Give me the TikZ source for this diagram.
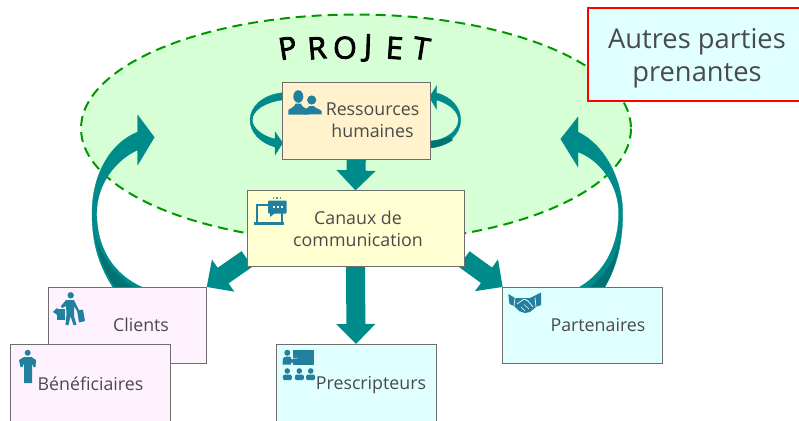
\documentclass[tikz,border=0pt]{standalone}
\usepackage{fontspec}
\setmainfont{Open Sans}
\newfontfamily\projf[FakeBold=2.6]{Open Sans}
\usetikzlibrary{arrows.meta}
\pgfdeclarelayer{back}
\pgfsetlayers{back,main}
\definecolor{tealA}{HTML}{008B8B}
\definecolor{tealD}{HTML}{007272}
\definecolor{iconC}{HTML}{22809F}
\definecolor{txtC}{HTML}{4A4A4A}
\definecolor{boxL}{HTML}{6E6E6E}
\definecolor{pinkF}{HTML}{FFF2FF}
\definecolor{cyanF}{HTML}{E0FFFF}
\definecolor{resF}{HTML}{FFF2CC}
\definecolor{canF}{HTML}{FFFFD2}
\tikzset{
  base/.style={draw=boxL,line width=1pt,inner sep=0pt,outer sep=0pt},
  pinkbox/.style={base,fill=pinkF,minimum width=158pt,minimum height=76pt},
  cyanbox/.style={base,fill=cyanF,minimum width=160pt,minimum height=76pt},
  lbl/.style={text=txtC,font=\fontsize{17.8}{22}\selectfont,align=center,inner sep=0pt},
  blockarrow/.style={draw=tealA,line width=19pt,-{Triangle[width=38pt,length=20pt]}},
  curved/.style={fill=tealA,draw=tealA,line width=.3pt,line join=round},
  proj/.style={font=\fontsize{30.5}{30}\projf,text=black,inner sep=0pt},
  ic/.style={fill=iconC},
}
\begin{document}
\begin{tikzpicture}[x=1pt,y=-1pt]
\useasboundingbox (0,0) rectangle (799,420);
\clip (0,0) rectangle (799,420);
% nodes (boxes)
\path
 node[base,fill=resF,minimum width=148pt,minimum height=77pt] (res) at (356.3,120.5) {}
 node[base,fill=canF,minimum width=217pt,minimum height=76.5pt] (can) at (355.5,228.7) {}
 node[pinkbox] (cli) at (127.7,325) {}
 node[cyanbox] (par) at (582.7,325) {}
 node[pinkbox,minimum width=160.5pt,minimum height=90pt] (ben) at (90.7,389) {}
 node[cyanbox,minimum height=90pt] (pre) at (356,389) {};
\begin{pgfonlayer}{back}
\fill[white] (0,0) rectangle (799,420);
% ellipse
\draw[fill=green!16,draw=green!60!black,line width=2pt,dash pattern=on 10pt off 6pt] (356,128.5) ellipse [x radius=275,y radius=114];
% curved arrows
\coordinate (tipL) at (154.3,137.3);
\coordinate (tipR) at (560.7,139);
\fill[curved] ([xshift=-15pt]cli.north) .. controls (97,262) and (92,240) .. (92,213) .. controls (92,175) and (110,143) .. (137.7,132)
  -- (137.7,115) -- (tipL) -- (137.7,165) -- (137.7,150)
  .. controls (115,160) and (96.7,185) .. (96.7,213) .. controls (96.7,250) and (115,275) .. ([xshift=14pt]cli.north) -- cycle;
\fill[tealD] (95.5,237) .. controls (99,258) and (106,274) .. (115,287) -- (133,287) .. controls (115,275) and (102,258) .. (95.5,237) -- cycle;
\fill[curved] ([xshift=22pt]par.north) .. controls (618,265) and (622.7,240) .. (622.7,213) .. controls (622.7,180) and (605,145) .. (578,132)
  -- (578,117) -- (tipR) -- (578,167) -- (578,152)
  .. controls (600,160) and (618.7,185) .. (618.7,213) .. controls (618.7,245) and (605,272) .. ([xshift=-3pt]par.north) -- cycle;
\fill[tealD] (620.5,237) .. controls (616,258) and (606,274) .. (590,287) -- (605,287) .. controls (612,274) and (618,258) .. (620.5,237) -- cycle;
% small loops
\fill[curved] ([yshift=27.8pt]res.west) .. controls (262,95) and (250,107) .. (250,120) .. controls (250,132) and (260,143) .. (275,147)
  -- (275,155) -- (282.7,143) -- (275,131.7) -- (275,139) .. controls (262,136) and (252.3,128) .. (252.3,120) .. controls (252.3,110) and (266,102) .. ([yshift=20.5pt]res.west) -- cycle;
\fill[curved] (436.7,93) .. controls (452,97) and (460.7,108) .. (460.7,120) .. controls (460.7,135) and (447,146) .. ([yshift=-27.5pt]res.east)
  -- ([yshift=-20.5pt]res.east) .. controls (447,140) and (458.4,130) .. (458.4,120) .. controls (458.4,112) and (450,104) .. (436.7,100)
  -- (436.7,109.3) -- (429.3,97.3) -- (436.7,85.7) -- cycle;
\fill[tealD] (430,141) .. controls (438,140.5) and (444,139) .. (449,137) -- (453,140) .. controls (446,145) and (438,147.5) .. (430,148) -- cycle;
% straight block arrows
\draw[blockarrow] (res.south) -- (can.north);
\draw[blockarrow] (can.south) -- (pre.north);
\draw[blockarrow] ([yshift=8pt]can.south west) -- (cli.north east);
\draw[blockarrow] ([yshift=8pt]can.south east) -- (par.north west);
\end{pgfonlayer}
\node[draw=red,line width=2pt,fill=cyanF,minimum width=220pt,minimum height=93pt,inner sep=0pt] (aut) at (698,54.5) {};
% labels
\node[lbl] (tres) at (372.5,120.5) {Ressources\\humaines};
\node[lbl] (tcan) at (358,228.5) {Canaux de\\communication};
\node[lbl] (tcli) at (141,325) {Clients};
\node[lbl] (tben) at (90.5,383.5) {Bénéficiaires};
\node[lbl] (tpre) at (371,385) {Prescripteurs};
\node[lbl] (tpar) at (598,325) {Partenaires};
\node[lbl,font=\fontsize{27.3}{33}\selectfont] (taut) at (697,58) {Autres parties\\prenantes};
% PROJET
\node[proj,rotate=9] (p1) at (287.7,48) {P};
\node[proj,rotate=5] (p2) at (317,48) {R};
\node[proj,rotate=1] (p3) at (345,47.7) {O};
\node[proj,rotate=-2] (p4) at (368,48) {J};
\node[proj,rotate=-4] (p5) at (394.5,48) {E};
\node[proj,rotate=-9] (p6) at (421.5,48.5) {T};
% icon: people
\fill[ic] (311.7,100) circle (4.6);
\fill[ic] (303,114.4) -- (303,110.5) .. controls (306,108.5) and (309,108) .. (309.5,106) -- (314,106) .. controls (314.5,108) and (319,108.5) .. (321.6,111) -- (321.6,114.4) -- cycle;
\fill[ic] (298.3,96.5) ellipse [x radius=5,y radius=6.3];
\fill[ic] (288.3,114.6) -- (288.3,110) .. controls (291,107.5) and (295,107) .. (295.5,103.5) -- (301,103.5) .. controls (301.5,107) and (305,107.5) .. (308.5,110) -- (308.5,114.6) -- cycle;
% icon: laptop and chat
\draw[iconC,line width=2pt] (268,205) -- (257,205) -- (257,222);
\draw[iconC,line width=2pt] (282,213) -- (282,222);
\fill[ic] (253.5,221.5) rectangle (284,225);
\fill[ic,rounded corners=1pt] (268,200.5) rectangle (286.5,213.5);
\fill[ic] (270,213) -- (270,217) -- (275,213) -- cycle;
\foreach \x in {274,278,282}{\fill[white] (\x-.9,206) rectangle (\x+.9,207.6);}
\foreach \x in {273.5,277,280.5}{\fill[iconC!80] (\x-.9,197) rectangle (\x+.9,198.8);}
% icon: shopper
\fill[ic] (70.7,295.3) circle (3.2);
\fill[ic] (66,300) -- (74,300) -- (79,310) -- (77,311) -- (74,306) -- (74,316) -- (76.5,325) -- (73.5,325) -- (70.5,316) -- (68.5,325) -- (65.5,325) -- (66.5,314) -- (66,306) -- (62,308) -- (61,306) -- cycle;
\fill[ic] (57.3,308.5) rectangle (64.5,320);
\fill[ic] (77,310.5) -- (83,309.5) -- (85,321) -- (79,322.5) -- cycle;
\fill[ic] (53,312) -- (57.3,307.5) -- (57.3,315) -- cycle;
% icon: beneficiary
\fill[ic] (27.7,352.8) circle (3);
\fill[ic] (24,357) -- (31.5,357) -- (36,360) -- (35.5,367) -- (33.5,367) -- (32,363) -- (32,383) -- (24.2,383) -- (24.2,363) -- (22.5,367) -- (20.5,367) -- (19,360) -- cycle;
% icon: teacher
\fill[ic] (293.3,350) rectangle (314.3,365);
\fill[ic] (287.3,352.8) circle (3);
\fill[ic] (282.5,364.5) -- (283,358) -- (286,356.5) -- (290,356.5) -- (293,360) -- (298,358.5) -- (298.5,360.5) -- (291,363) -- (291,364.5) -- cycle;
\draw[white,line width=.5pt] (291,358.5) -- (297.5,358);
\foreach \x in {287.3,299.3,310.7}{
  \fill[ic] (\x,371) circle (2.8);
  \fill[ic,rounded corners=1.5pt] (\x-4.5,380.2) rectangle (\x+4.5,374.5);
}
% icon: handshake
\fill[ic] (508.3,294) -- (515,298) -- (522,298) -- (530,298) -- (541,292.5) -- (541,305) -- (536,307) -- (530,312) -- (525,313) -- (519,311) -- (514,306) -- (509.5,304) -- cycle;
\draw[white,line width=.7pt] (515,298) -- (514,306);
\draw[white,line width=.7pt] (535,297.5) -- (536,307);
\draw[white,line width=.7pt] (517,304) -- (524,299) -- (528,301) -- (533,307);
\draw[white,line width=.5pt] (521,307) -- (525,311) (524,304.5) -- (529,309);
\end{tikzpicture}
\end{document}
